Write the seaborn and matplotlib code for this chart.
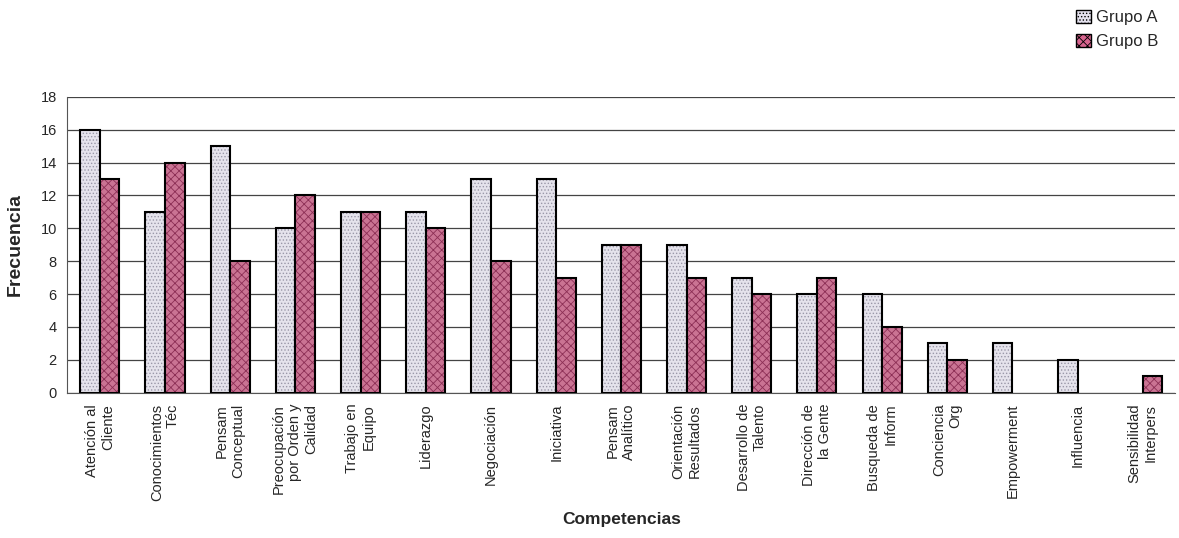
import numpy as np
import pandas as pd
import matplotlib
matplotlib.use('Agg')
import matplotlib.pyplot as plt
import seaborn as sns
from matplotlib.patches import Patch

# Data
competencias = [
    'Atención al\nCliente', 'Conocimientos\nTéc', 'Pensam\nConceptual',
    'Preocupación\npor Orden y\nCalidad', 'Trabajo en\nEquipo', 'Liderazgo',
    'Negociación', 'Iniciativa', 'Pensam\nAnalítico', 'Orientación\nResultados',
    'Desarrollo de\nTalento', 'Dirección de\nla Gente', 'Busqueda de\nInform',
    'Conciencia\nOrg', 'Empowerment', 'Influencia', 'Sensibilidad\nInterpers',
]
grupo_a = [16, 11, 15, 10, 11, 11, 13, 13, 9, 9, 7, 6, 6, 3, 3, 2, 0]
grupo_b = [13, 14, 8, 12, 11, 10, 8, 7, 9, 7, 6, 7, 4, 2, 0, 0, 1]
grupos = ['Grupo A', 'Grupo B']

df = pd.DataFrame({
    'competencia': competencias * 2,
    'frecuencia': grupo_a + grupo_b,
    'grupo': ['Grupo A'] * len(grupo_a) + ['Grupo B'] * len(grupo_b),
})

sns.set_style('white')
plt.rcParams['font.family'] = ['Liberation Sans', 'DejaVu Sans']
plt.rcParams['hatch.linewidth'] = 0.6

colors = {'Grupo A': '#e4e1ee', 'Grupo B': '#d8648f'}
hatches = {'Grupo A': '.....', 'Grupo B': 'xxxx'}
hatch_colors = {'Grupo A': '#9a97a8', 'Grupo B': '#8c2f55'}

fig = plt.figure(figsize=(11.79, 5.38), dpi=100)
ax = fig.add_axes([0.057, 0.27, 0.94, 0.55])

sns.barplot(data=df, x='competencia', y='frecuencia', hue='grupo', hue_order=grupos,
            palette=colors, width=0.6, edgecolor='black', linewidth=1.5,
            legend=False, ax=ax, zorder=3)

for cont, g in zip(ax.containers, grupos):
    for bar in cont:
        bar.set_hatch(hatches[g])
        bar._hatch_color = matplotlib.colors.to_rgba(hatch_colors[g])
        # empty categories show no bar at all
        if bar.get_height() == 0:
            bar.set_visible(False)

ax.set_ylim(0, 18)
ax.set_yticks(range(0, 19, 2))
ax.set_xlim(-0.5, len(competencias) - 0.5)
ax.yaxis.grid(True, color='#444444', linewidth=0.9, zorder=0)
ax.set_axisbelow(True)
for s in ['top', 'right']:
    ax.spines[s].set_visible(False)
ax.spines['left'].set_color('#555555')
ax.spines['bottom'].set_color('#555555')

ax.set_xticks(np.arange(-0.5, len(competencias), 1), minor=True)
ax.tick_params(axis='x', which='major', length=0, pad=8)
ax.tick_params(axis='x', which='minor', length=4, direction='out', color='#555555')
ax.tick_params(axis='y', length=4, direction='out', color='#555555', labelsize=10.5)
ax.set_xticks(range(len(competencias)))
ax.set_xticklabels(competencias, rotation=90, fontsize=10.5, va='top', ha='center',
                   multialignment='right')

ax.set_ylabel('Frecuencia', fontsize=14, fontweight='bold', labelpad=12)
ax.set_xlabel('Competencias', fontsize=12.5, fontweight='bold', labelpad=8)

handles = [Patch(facecolor=colors[g], edgecolor='black', hatch=hatches[g], label=g)
           for g in grupos]
fig.legend(handles=handles, loc='upper right', bbox_to_anchor=(0.995, 1.01),
           frameon=False, fontsize=12, handlelength=0.9, handleheight=0.9,
           handletextpad=0.3, labelspacing=0.5)

fig.savefig('out.png', dpi=100)
